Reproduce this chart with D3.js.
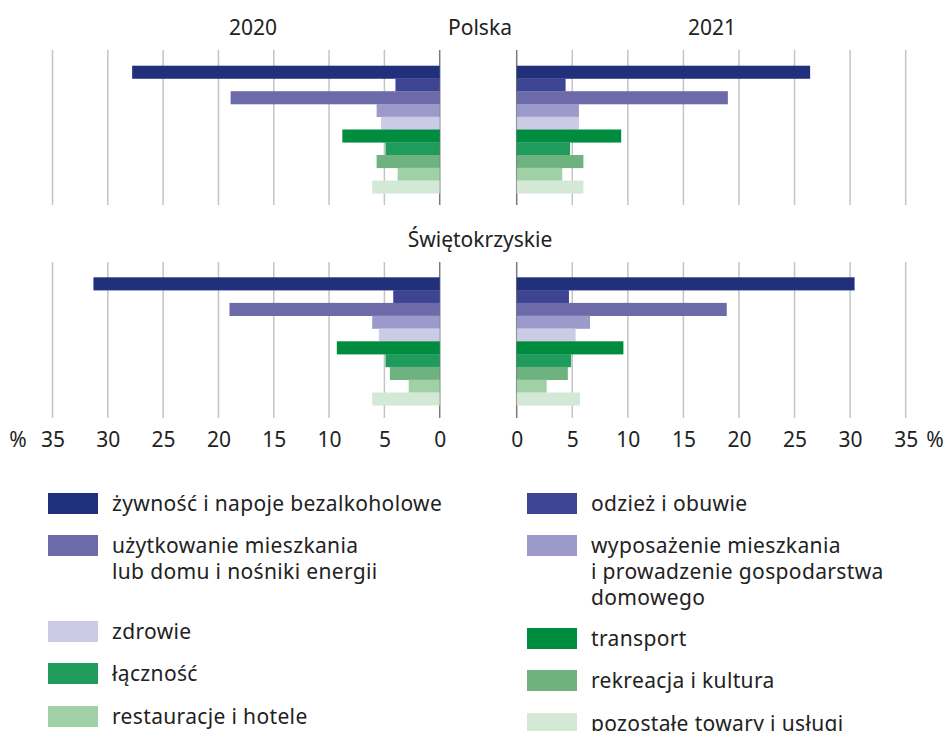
<!DOCTYPE html>
<html>
<head>
<meta charset="utf-8">
<script src="https://cdn.jsdelivr.net/npm/d3@7"></script>
<style>
  body { margin: 0; background: #fff; }
  svg text { font-family: "Noto Sans", sans-serif; fill: #222; }
</style>
</head>
<body>
<svg id="chart" width="946" height="731"></svg>
<script>
// categories (top to bottom in each panel)
const categories = [
    "żywność i napoje bezalkoholowe",
    "odzież i obuwie",
    "użytkowanie mieszkania lub domu i nośniki energii",
    "wyposażenie mieszkania i prowadzenie gospodarstwa domowego",
    "zdrowie",
    "transport",
    "łączność",
    "rekreacja i kultura",
    "restauracje i hotele",
    "pozostałe towary i usługi"
];
const colors = ["#21307b", "#3d4592", "#6c6aa9", "#9c9acb", "#cbcbe6",
                "#008c3f", "#1f9c5c", "#6db27f", "#9fd0a6", "#d4e9d5"];

const polska2020 = [27.8, 4.0, 18.9, 5.7, 5.3, 8.8, 4.9, 5.7, 3.8, 6.1];
const polska2021 = [26.4, 4.4, 19.0, 5.6, 5.6, 9.4, 4.8, 6.0, 4.1, 6.0];
const swiet2020  = [31.3, 4.2, 19.0, 6.1, 5.5, 9.3, 4.9, 4.5, 2.8, 6.1];
const swiet2021  = [30.4, 4.7, 18.9, 6.6, 5.3, 9.6, 4.9, 4.6, 2.7, 5.7];

const tickValues = [0, 5, 10, 15, 20, 25, 30, 35];

// legend: left column / right column, with line breaks
const legendLeft = [
    { i: 0, lines: ["żywność i napoje bezalkoholowe"] },
    { i: 2, lines: ["użytkowanie mieszkania", "lub domu i nośniki energii"] },
    { i: 4, lines: ["zdrowie"] },
    { i: 6, lines: ["łączność"] },
    { i: 8, lines: ["restauracje i hotele"] }
];
const legendRight = [
    { i: 1, lines: ["odzież i obuwie"] },
    { i: 3, lines: ["wyposażenie mieszkania", "i prowadzenie gospodarstwa", "domowego"] },
    { i: 5, lines: ["transport"] },
    { i: 7, lines: ["rekreacja i kultura"] },
    { i: 9, lines: ["pozostałe towary i usługi"] }
];

const svg = d3.select("#chart");
const fs = 21;

const xL = d3.scaleLinear().domain([0, 35]).range([439.7, 52.5]);
const xR = d3.scaleLinear().domain([0, 35]).range([516.7, 905.7]);

const panels = [
    { title: "Polska", titleY: 35, gridTop: 50, gridBottom: 205, barTop: 65.7, barBottom: 193.3, left: polska2020, right: polska2021 },
    { title: "Świętokrzyskie", titleY: 247, gridTop: 262, gridBottom: 418, barTop: 277.3, barBottom: 405.3, left: swiet2020, right: swiet2021 }
];

panels.forEach(p => {
    const g = svg.append("g");
    const y = d3.scaleBand().domain(categories).range([p.barTop, p.barBottom]).padding(0);

    [xL, xR].forEach(x => {
        g.selectAll(null).data(tickValues).enter().append("line")
            .attr("x1", d => x(d)).attr("x2", d => x(d))
            .attr("y1", p.gridTop).attr("y2", p.gridBottom)
            .attr("stroke", d => d === 0 ? "#7a7a7a" : "#c4c4c4")
            .attr("stroke-width", 1.5);
    });

    g.selectAll(null).data(p.left).enter().append("rect")
        .attr("x", d => xL(d))
        .attr("y", (d, i) => y(categories[i]))
        .attr("width", d => xL(0) - xL(d))
        .attr("height", y.bandwidth() + 0.3)
        .attr("fill", (d, i) => colors[i]);

    g.selectAll(null).data(p.right).enter().append("rect")
        .attr("x", xR(0))
        .attr("y", (d, i) => y(categories[i]))
        .attr("width", d => xR(d) - xR(0))
        .attr("height", y.bandwidth() + 0.3)
        .attr("fill", (d, i) => colors[i]);

    g.append("text").attr("x", 480).attr("y", p.titleY)
        .attr("text-anchor", "middle").attr("font-size", fs).text(p.title);
});

// year headers
svg.append("text").attr("x", 253).attr("y", 35).attr("text-anchor", "middle").attr("font-size", fs).text("2020");
svg.append("text").attr("x", 712).attr("y", 35).attr("text-anchor", "middle").attr("font-size", fs).text("2021");

// axes (labels only)
const axL = svg.append("g").attr("transform", "translate(0,432)")
    .call(d3.axisBottom(xL).tickValues(tickValues).tickSize(0).tickPadding(0));
const axR = svg.append("g").attr("transform", "translate(0,432)")
    .call(d3.axisBottom(xR).tickValues(tickValues).tickSize(0).tickPadding(0));
[axL, axR].forEach(a => {
    a.select(".domain").remove();
    a.selectAll("text").attr("font-size", fs).attr("font-family", "Noto Sans, sans-serif").attr("fill", "#222");
});
svg.append("text").attr("x", 18).attr("y", 447).attr("text-anchor", "middle").attr("font-size", fs).text("%");
svg.append("text").attr("x", 935).attr("y", 447).attr("text-anchor", "middle").attr("font-size", fs).text("%");

// legend
function drawLegend(items, xSw, ys) {
    items.forEach((it, k) => {
        const g = svg.append("g");
        g.append("rect").attr("x", xSw).attr("y", ys[k]).attr("width", 50).attr("height", 21).attr("fill", colors[it.i]);
        it.lines.forEach((ln, j) => {
            g.append("text").attr("x", xSw + 64).attr("y", ys[k] + 18 + j * 26)
                .attr("font-size", fs).attr("letter-spacing", 0.35).text(ln);
        });
    });
}
drawLegend(legendLeft, 48, [493, 535, 621, 663, 706]);
drawLegend(legendRight, 527, [493, 535, 628, 670, 713]);
</script>
</body>
</html>
